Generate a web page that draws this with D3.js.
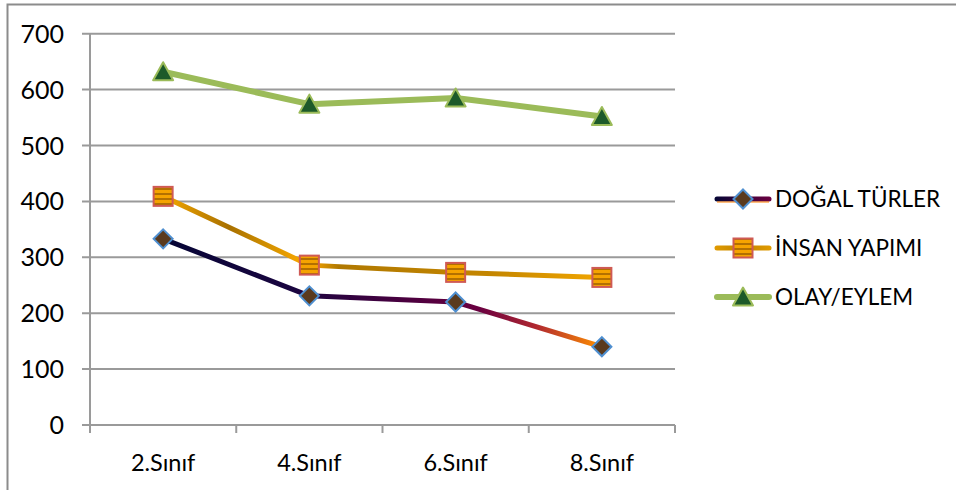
<!DOCTYPE html>
<html><head><meta charset="utf-8">
<script src="https://cdn.jsdelivr.net/npm/d3@7"></script>
<style>body{margin:0;background:#fff}svg{display:block}text{font-family:Lato,"Open Sans",sans-serif;fill:#000}</style>
</head><body><svg id="c" width="956" height="490"></svg>
<script>
const categories = ["2.Sınıf","4.Sınıf","6.Sınıf","8.Sınıf"];
const dogalTurler = [333, 231, 220, 140];
const insanYapimi = [409, 286, 273, 264];
const olayEylem = [632, 574, 585, 552];
const seriesNames = ["DOĞAL TÜRLER","İNSAN YAPIMI","OLAY/EYLEM"];
const yTicks = [0,100,200,300,400,500,600,700];

const svg = d3.select("#c");
const defs = svg.append("defs");
const L = 90, R = 675, T = 33.7, B = 425;
const x = d3.scaleBand().domain(categories).range([L, R]);
const y = d3.scaleLinear().domain([0,700]).range([B, T]);
const cx = c => x(c) + x.bandwidth()/2;

// outer border
svg.append("path").attr("d","M7.5,500V4.5H960").attr("fill","none").attr("stroke","#8c8c8c").attr("stroke-width",2);

// gridlines
svg.append("g").selectAll("line").data(yTicks).join("line")
  .attr("x1", L-8).attr("x2", R).attr("y1", d=>y(d)).attr("y2", d=>y(d))
  .attr("stroke","#9a9a9a").attr("stroke-width",2);
// y axis
svg.append("line").attr("x1",L).attr("x2",L).attr("y1",T).attr("y2",B+8).attr("stroke","#9a9a9a").attr("stroke-width",2);
// x ticks
const xt = categories.map(c=>x(c)).concat([R]);
svg.append("g").selectAll("line").data(xt).join("line")
  .attr("x1",d=>d).attr("x2",d=>d).attr("y1",B).attr("y2",B+8).attr("stroke","#9a9a9a").attr("stroke-width",2);

// y labels
svg.append("g").selectAll("text").data(yTicks).join("text")
  .attr("x",64).attr("y",d=>y(d)).attr("dy","0.36em").attr("text-anchor","end")
  .attr("font-size",25).text(d=>d);
// x labels
svg.append("g").selectAll("text").data(categories).join("text")
  .attr("x",d=>cx(d)).attr("y",463).attr("dy","0.36em").attr("text-anchor","middle")
  .attr("font-size",23.5).text(d=>d);

// gradients
function grad(id, stops, x1, x2){
  const g = defs.append("linearGradient").attr("id",id).attr("gradientUnits","userSpaceOnUse")
    .attr("x1",x1).attr("x2",x2).attr("y1",0).attr("y2",0);
  stops.forEach(s=>g.append("stop").attr("offset",s[0]).attr("stop-color",s[1]));
}
grad("gD", [[0,"#050535"],[0.3,"#1a0540"],[0.55,"#4a003f"],[0.72,"#6a0040"],[0.85,"#b02830"],[1,"#ff9000"]], cx(categories[0]), cx(categories[3]));
grad("gI", [[0,"#f5a800"],[0.15,"#a87000"],[0.25,"#d89400"],[0.33,"#ffaa00"],[0.4,"#b07800"],[0.75,"#c48600"],[1,"#f2a600"]], cx(categories[0]), cx(categories[3]));
grad("gDL", [[0,"#050535"],[1,"#6a0040"]], 715, 770);
grad("gIL", [[0,"#e09a00"],[0.5,"#c08400"],[1,"#e09a00"]], 715, 770);
// stripe pattern for square marker
const pat = defs.append("pattern").attr("id","stripes").attr("patternUnits","userSpaceOnUse").attr("width",4).attr("height",5);
pat.append("rect").attr("width",4).attr("height",5).attr("fill","#f5a300");
pat.append("rect").attr("y",3).attr("width",4).attr("height",2).attr("fill","#b27000");

const line = d3.line().x((d,i)=>cx(categories[i])).y(d=>y(d));

function diamond(g, px, py){
  g.append("path").attr("d",`M${px},${py-9.5}L${px+9.5},${py}L${px},${py+9.5}L${px-9.5},${py}Z`)
   .attr("fill","#5a3a1e").attr("stroke","#4f8fd0").attr("stroke-width",2);
}
function square(g, px, py){
  g.append("rect").attr("x",px-9.5).attr("y",py-9.5).attr("width",19).attr("height",19)
   .attr("fill","url(#stripes)").attr("stroke","#cf5a55").attr("stroke-width",2);
}
function tri(g, px, py){
  g.append("path").attr("d",`M${px},${py-9.5}L${px+10},${py+8.5}L${px-10},${py+8.5}Z`)
   .attr("fill","#1d5a2a").attr("stroke","#9bbb59").attr("stroke-width",2).attr("stroke-linejoin","round");
}

const series = [
  {vals: dogalTurler, stroke:"url(#gD)", legStroke:"url(#gDL)", mk: diamond, w:5},
  {vals: insanYapimi, stroke:"url(#gI)", legStroke:"url(#gIL)", mk: square, w:5},
  {vals: olayEylem, stroke:"#9bbb59", legStroke:"#9bbb59", mk: tri, w:6}
];
series.forEach(s=>{
  svg.append("path").datum(s.vals).attr("d",line).attr("fill","none")
    .attr("stroke",s.stroke).attr("stroke-width",s.w).attr("stroke-linejoin","round");
});
series.forEach(s=>{
  const g = svg.append("g");
  s.vals.forEach((v,i)=>s.mk(g, cx(categories[i]), y(v)));
});

// legend
const legY = [199, 248, 297];
series.forEach((s,i)=>{
  const g = svg.append("g");
  g.append("line").attr("x1",717).attr("x2",769).attr("y1",legY[i]).attr("y2",legY[i])
    .attr("stroke",s.legStroke).attr("stroke-width",s.w).attr("stroke-linecap","round");
  if(i===0) g.append("line").attr("x1",717).attr("x2",769).attr("y1",legY[i]+3).attr("y2",legY[i]+3).attr("stroke","#ff8000").attr("stroke-width",1.2);
  s.mk(g, 743, legY[i]);
  g.append("text").attr("x",775).attr("y",legY[i]).attr("dy","0.36em").attr("font-size",22.5).text(seriesNames[i]);
});
</script></body></html>
